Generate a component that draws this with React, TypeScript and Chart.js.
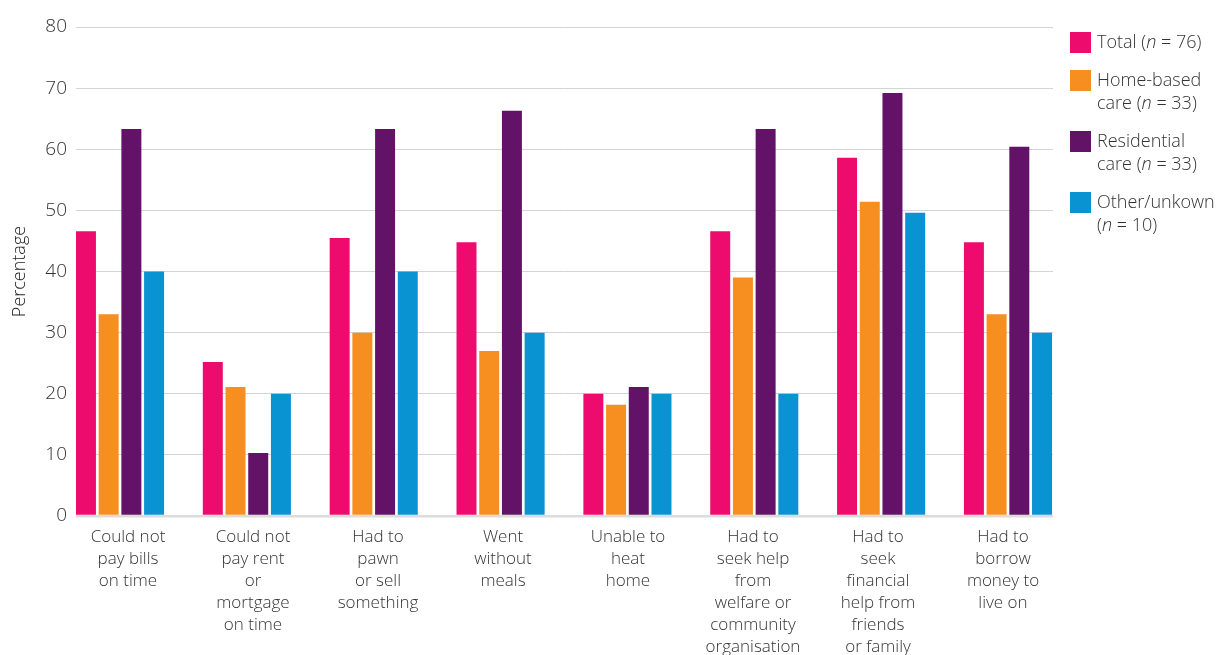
import React, { useEffect, useRef } from "react";
import { Chart, registerables } from "chart.js";

Chart.register(...registerables);

// ---- Data ----
const categories: string[][] = [
  ["Could not", "pay bills", "on time"],
  ["Could not", "pay rent", "or", "mortgage", "on time"],
  ["Had to", "pawn", "or sell", "something"],
  ["Went", "without", "meals"],
  ["Unable to", "heat", "home"],
  ["Had to", "seek help", "from", "welfare or", "community", "organisation"],
  ["Had to", "seek", "financial", "help from", "friends", "or family"],
  ["Had to", "borrow", "money to", "live on"],
];

const total = [46.6, 25.2, 45.5, 44.8, 20.0, 46.6, 58.6, 44.8];
const homeBased = [33.0, 21.1, 30.0, 27.0, 18.2, 39.0, 51.4, 33.0];
const residential = [63.3, 10.3, 63.3, 66.3, 21.1, 63.3, 69.2, 60.4];
const otherUnknown = [40.0, 20.0, 40.0, 30.0, 20.0, 20.0, 49.6, 30.0];

const seriesLabels = ["Total (n = 76)", "Home-based care (n = 33)", "Residential care (n = 33)", "Other/unkown (n = 10)"];
const legendLines: string[][] = [
  ["Total (n = 76)"],
  ["Home-based", "care (n = 33)"],
  ["Residential", "care (n = 33)"],
  ["Other/unkown", "(n = 10)"],
];
const seriesColors = ["#ED0C6E", "#F68F1F", "#621368", "#0A93D2"];

const yMin = 0;
const yMax = 80;
const yStep = 10;
const yTitle = "Percentage";

const FONT = "'Open Sans', 'DejaVu Sans', sans-serif";
const TEXT = "#333333";

function renderLine(line: string) {
  const parts = line.split(/(\bn\b)/);
  return parts.map((p, i) => (p === "n" ? <i key={i}>n</i> : <span key={i}>{p}</span>));
}

export default function App() {
  const canvasRef = useRef<HTMLCanvasElement | null>(null);

  useEffect(() => {
    const canvas = canvasRef.current;
    if (!canvas) return;
    const seriesValues = [total, homeBased, residential, otherUnknown];
    const chart = new Chart(canvas, {
      type: "bar",
      data: {
        datasets: seriesValues.map((vals, s) => ({
          label: seriesLabels[s],
          data: vals.map((y, i) => ({ x: i, y })),
          backgroundColor: seriesColors[s],
          borderWidth: 0,
          categoryPercentage: 0.716,
          barPercentage: 0.88,
          xAxisID: "x",
        })),
      },
      options: {
        animation: false,
        responsive: false,
        maintainAspectRatio: false,
        layout: { padding: { top: 27, right: 173, left: 0, bottom: 0 } },
        plugins: {
          legend: { display: false },
          tooltip: { enabled: false },
        },
        scales: {
          x: {
            type: "linear",
            display: false,
            offset: false,
            min: -0.347,
            max: 7.355,
            ticks: { stepSize: 1, includeBounds: false },
          },
          xLabels: {
            type: "linear",
            axis: "x",
            position: "bottom",
            offset: false,
            min: -0.416,
            max: 7.4,
            grid: { display: false },
            border: { display: false },
            ticks: {
              stepSize: 1,
              includeBounds: false,
              autoSkip: false,
              maxRotation: 0,
              minRotation: 0,
              padding: 2,
              color: TEXT,
              font: { family: FONT, size: 17, weight: "300", lineHeight: "22px" },
              callback: (v: any) => {
                const n = Number(v);
                return Number.isInteger(n) && n >= 0 && n < categories.length ? categories[n] : "";
              },
            },
            afterFit: (scale: any) => {
              scale.height = 139;
            },
          },
          y: {
            min: yMin,
            max: yMax,
            border: { display: false },
            grid: {
              drawTicks: false,
              color: (ctx: any) => (ctx.tick && ctx.tick.value === 0 ? "#dcdcdc" : "#d4d4d4"),
              lineWidth: (ctx: any) => (ctx.tick && ctx.tick.value === 0 ? 2.5 : 1),
            },
            ticks: {
              stepSize: yStep,
              padding: 9,
              color: TEXT,
              font: { family: FONT, size: 19, weight: "300" },
            },
            title: {
              display: true,
              text: yTitle,
              color: "#222",
              padding: { top: 9, bottom: 0 },
              font: { family: FONT, size: 18, weight: "300" },
            },
            afterFit: (scale: any) => {
              scale.width = 76;
            },
          },
        },
      },
    } as any);
    return () => chart.destroy();
  }, []);

  return (
    <div style={{ position: "absolute", left: 0, top: 0, width: 1226, height: 655, background: "#fff", overflow: "hidden" }}>
      <canvas ref={canvasRef} width={1226} height={655} style={{ position: "absolute", left: 0, top: 0, display: "block" }} />
      <div
        style={{
          position: "absolute",
          left: 1070,
          top: 30,
          display: "flex",
          flexDirection: "column",
          gap: 14,
          fontFamily: FONT,
          fontWeight: 300,
          fontSize: 18,
          lineHeight: "23.5px",
          color: TEXT,
        }}
      >
        {legendLines.map((lines, s) => (
          <div key={s} style={{ display: "flex", alignItems: "flex-start" }}>
            <div style={{ width: 21, height: 21, background: seriesColors[s], marginTop: 2, marginRight: 6, flex: "none" }} />
            <div style={{ whiteSpace: "nowrap" }}>
              {lines.map((ln, j) => (
                <div key={j}>{renderLine(ln)}</div>
              ))}
            </div>
          </div>
        ))}
      </div>
    </div>
  );
}
